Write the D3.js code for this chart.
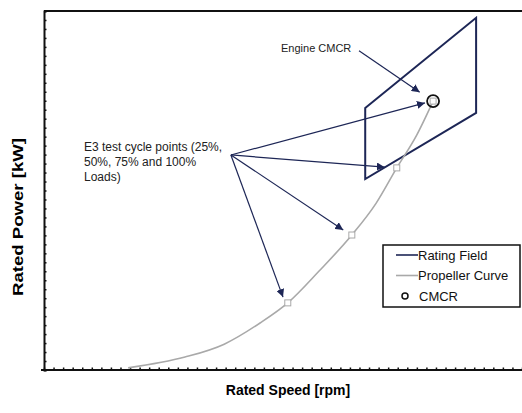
<!DOCTYPE html>
<html>
<head>
<meta charset="utf-8">
<script src="https://cdn.jsdelivr.net/npm/d3@7"></script>
<style>
  body { margin: 0; background: #fff; }
  svg { display: block; }
</style>
</head>
<body>
<svg id="chart"></svg>
<script>
// propeller curve (speed %, power %)
const propSpeed = [17.6, 29.5, 37.7, 45.2, 51.0, 57.5, 64.4, 69.5, 73.8, 78.0, 81.4];
const propPower = [0.6, 3.6, 7.2, 13.1, 18.7, 27.5, 37.6, 46.5, 56.3, 65.5, 74.9];

// E3 test cycle points (25, 50, 75, 100 % load)
const e3Speed = [51.0, 64.4, 73.8, 81.4];
const e3Power = [18.7, 37.6, 56.3, 74.9];

// rating field corners
const fieldSpeed = [67.2, 90.4, 90.4, 67.2];
const fieldPower = [73.0, 98.1, 71.6, 53.2];

// CMCR
const cmcr = { speed: 81.4, power: 74.9 };

// annotation arrows (start, end) in data units
const e3Origin = [39.1, 59.9];
const e3Tips = [[79.7, 74.4], [71.3, 56.5], [62.6, 39.0], [50.0, 20.3]];
const cmcrArrow = [[65.9, 88.9], [78.6, 77.4]];

const legendItems = ['Rating Field', 'Propeller Curve', 'CMCR'];

const width = 522, height = 413;
const margin = { top: 11, right: 0, bottom: 43, left: 44 };
const navy = '#1d2656', grey = '#a9a9a9';

const svg = d3.select('#chart').attr('width', width).attr('height', height);

const x = d3.scaleLinear().domain([0, 100]).range([margin.left, width - margin.right]);
const y = d3.scaleLinear().domain([0, 100]).range([height - margin.bottom, margin.top]);

const defs = svg.append('defs');
defs.append('marker')
    .attr('id', 'head')
    .attr('viewBox', '0 0 10 10')
    .attr('refX', 10).attr('refY', 5)
    .attr('markerWidth', 8).attr('markerHeight', 8)
    .attr('markerUnits', 'userSpaceOnUse')
    .attr('orient', 'auto')
  .append('path')
    .attr('d', 'M0,0 L10,5 L0,10 Z')
    .attr('fill', navy);

// axes
const xAxis = d3.axisBottom(x).tickValues(d3.range(0, 101, 2)).tickSize(-2.5).tickFormat('');
const yAxis = d3.axisLeft(y).tickValues(d3.range(0, 101, 2.5)).tickSize(-2.5).tickFormat('');

const gx = svg.append('g').attr('transform', `translate(0,${y(0)})`).call(xAxis);
const gy = svg.append('g').attr('transform', `translate(${x(0)},0)`).call(yAxis);
[gx, gy].forEach(g => {
    g.select('.domain').attr('stroke', '#111').attr('stroke-width', 2);
    g.selectAll('.tick line').attr('stroke', '#111').attr('stroke-width', 1.5);
});
gx.select('.domain').attr('d', `M${x(0) - 3},0H${x(100)}`);

// top frame line
svg.append('line')
    .attr('x1', x(0)).attr('x2', x(100))
    .attr('y1', y(100)).attr('y2', y(100))
    .attr('stroke', '#111').attr('stroke-width', 2);

// rating field
svg.append('path')
    .attr('d', d3.line().x((d, i) => x(fieldSpeed[i])).y(d => y(d))(fieldPower) + 'Z')
    .attr('fill', 'none')
    .attr('stroke', navy)
    .attr('stroke-width', 2);

// propeller curve
svg.append('path')
    .attr('d', d3.line().x((d, i) => x(propSpeed[i])).y(d => y(d)).curve(d3.curveMonotoneX)(propPower))
    .attr('fill', 'none')
    .attr('stroke', grey)
    .attr('stroke-width', 1.6);

svg.selectAll('rect.e3')
    .data(e3Power)
    .enter()
    .append('rect')
    .attr('class', 'e3')
    .attr('x', (d, i) => x(e3Speed[i]) - 3)
    .attr('y', d => y(d) - 3)
    .attr('width', 6).attr('height', 6)
    .attr('fill', '#fff')
    .attr('stroke', grey)
    .attr('stroke-width', 1);

// CMCR circle
svg.append('circle')
    .attr('cx', x(cmcr.speed)).attr('cy', y(cmcr.power))
    .attr('r', 6)
    .attr('fill', 'none')
    .attr('stroke', '#111')
    .attr('stroke-width', 1.8);

// arrows
svg.selectAll('line.e3arrow')
    .data(e3Tips)
    .enter()
    .append('line')
    .attr('class', 'e3arrow')
    .attr('x1', x(e3Origin[0])).attr('y1', y(e3Origin[1]))
    .attr('x2', d => x(d[0])).attr('y2', d => y(d[1]))
    .attr('stroke', navy)
    .attr('stroke-width', 1.2)
    .attr('marker-end', 'url(#head)');

svg.append('line')
    .attr('x1', x(cmcrArrow[0][0])).attr('y1', y(cmcrArrow[0][1]))
    .attr('x2', x(cmcrArrow[1][0])).attr('y2', y(cmcrArrow[1][1]))
    .attr('stroke', navy)
    .attr('stroke-width', 1.2)
    .attr('marker-end', 'url(#head)');

// annotation texts
const noteFont = "'Liberation Sans', Arial, sans-serif";
const e3Lines = ['E3 test cycle points (25%,', '50%, 75% and 100%', 'Loads)'];
svg.selectAll('text.e3note')
    .data(e3Lines)
    .enter()
    .append('text')
    .attr('class', 'e3note')
    .attr('x', 84)
    .attr('y', (d, i) => 151 + i * 15)
    .style('font-family', noteFont).style('font-size', '12px').attr('fill', '#222')
    .text(d => d);

svg.append('text')
    .attr('x', 281).attr('y', 52)
    .style('font-family', noteFont).style('font-size', '11px').attr('fill', '#222')
    .text('Engine CMCR');

// axis titles
svg.append('text')
    .attr('x', 288).attr('y', 395)
    .attr('text-anchor', 'middle')
    .style('font-family', "'Liberation Sans', Arial, sans-serif")
    .style('font-size', '14px').style('font-weight', 'bold')
    .text('Rated Speed [rpm]');

svg.append('text')
    .attr('transform', 'translate(23,217) rotate(-90)')
    .attr('text-anchor', 'middle')
    .style('font-family', "'Liberation Sans', Arial, sans-serif")
    .style('font-size', '15px').style('font-weight', 'bold')
    .attr('textLength', 158).attr('lengthAdjust', 'spacingAndGlyphs')
    .text('Rated Power [kW]');

// legend
const legend = svg.append('g').attr('transform', 'translate(383,245)');
legend.append('rect')
    .attr('width', 137).attr('height', 62)
    .attr('fill', '#fff')
    .attr('stroke', '#111').attr('stroke-width', 1.5);

const items = legend.selectAll('g.item')
    .data(legendItems)
    .enter()
    .append('g')
    .attr('class', 'item')
    .attr('transform', (d, i) => `translate(0,${10 + i * 20.5})`);

items.filter((d, i) => i < 2)
    .append('line')
    .attr('x1', 13).attr('x2', 35)
    .attr('stroke', (d, i) => i === 0 ? navy : grey)
    .attr('stroke-width', 1.6);

items.filter((d, i) => i === 2)
    .append('circle')
    .attr('cx', 22).attr('r', 3)
    .attr('fill', 'none').attr('stroke', '#111').attr('stroke-width', 1.5);

items.append('text')
    .attr('x', (d, i) => i === 2 ? 36 : 35)
    .attr('dy', '0.35em')
    .style('font-family', noteFont).style('font-size', '13px')
    .attr('fill', '#111')
    .text(d => d);
</script>
</body>
</html>
